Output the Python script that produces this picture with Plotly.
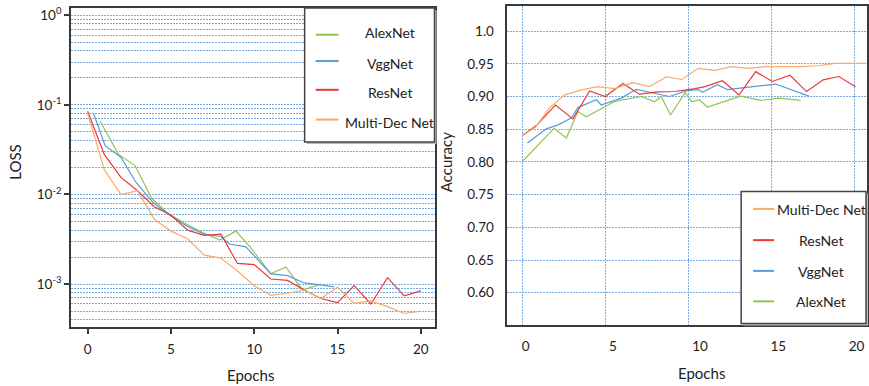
import plotly.graph_objects as go

# ---------------- data ----------------
series_names = ["AlexNet", "VggNet", "ResNet", "Multi-Dec Net"]
series_colors = {"AlexNet": "#92c353", "VggNet": "#5b9bd5", "ResNet": "#e8393b", "Multi-Dec Net": "#f9a968"}

# LOSS (left chart)
loss_alex_x = [0.75, 1.85, 2.85, 3.85, 4.85, 6, 7, 7.95, 8.9, 9.75, 11, 11.9, 12.9, 14]
loss_alex_y = [0.066, 0.028, 0.021, 0.009, 0.0061, 0.0046, 0.0037, 0.0031, 0.0039, 0.0026,
               0.0013, 0.00155, 0.00086, 0.001]
loss_vgg_x = [0.35, 1.05, 2, 2.9, 3.9, 4.9, 6, 7, 8, 8.5, 9.5, 11, 12, 13, 14, 14.8]
loss_vgg_y = [0.081, 0.035, 0.026, 0.0137, 0.0082, 0.0059, 0.0044, 0.0036, 0.0034, 0.0028,
              0.0026, 0.0013, 0.00124, 0.00103, 0.00098, 0.00093]
loss_res_x = list(range(21))
loss_res_y = [0.085, 0.028, 0.0155, 0.011, 0.0073, 0.0059, 0.0040, 0.0035, 0.0036, 0.0017,
              0.00165, 0.00114, 0.0011, 0.00086, 0.00069, 0.00062, 0.00096, 0.0006, 0.00118,
              0.00074, 0.00084]
loss_mdn_x = list(range(21))
loss_mdn_y = [0.081, 0.019, 0.010, 0.011, 0.0053, 0.0039, 0.0032, 0.0021, 0.00195, 0.0014,
              0.00096, 0.00075, 0.00079, 0.00086, 0.00069, 0.00092, 0.00061, 0.00065, 0.00056,
              0.00047, 0.0005]

# Accuracy (right chart)
acc_alex_x = [0, 1.92, 2.66, 3.36, 3.86, 5.56, 7.16, 7.96, 8.36, 8.92, 9.8, 10.2, 10.64, 11.14,
              13.14, 14.34, 15.44, 16.74]
acc_alex_y = [0.80, 0.8515, 0.8364, 0.877, 0.869, 0.8924, 0.90, 0.892, 0.90, 0.8717, 0.906,
              0.892, 0.895, 0.884, 0.9005, 0.894, 0.8975, 0.894]
acc_vgg_x = [0.32, 1.46, 2.16, 2.96, 3.36, 4.46, 4.76, 5.96, 6.86, 7.76, 8.86, 9.9, 10.6, 10.84,
             11.74, 12.34, 15.24, 17.24]
acc_vgg_y = [0.829, 0.8505, 0.8566, 0.867, 0.883, 0.895, 0.887, 0.8975, 0.911, 0.906, 0.90,
             0.909, 0.9105, 0.9065, 0.918, 0.9105, 0.919, 0.9005]
acc_res_x = [0, 0.86, 2, 3.06, 4.06, 5, 6.06, 7.06, 8.16, 9.16, 10.4, 11, 12.04, 13.04, 14.04,
             15.04, 16.1, 17.1, 18.1, 19.04, 20.04]
acc_res_y = [0.840, 0.8556, 0.887, 0.8657, 0.9086, 0.900, 0.9197, 0.9035, 0.907, 0.9076, 0.912,
             0.915, 0.924, 0.9025, 0.938, 0.923, 0.9325, 0.9075, 0.9255, 0.9305, 0.915]
acc_mdn_x = [0, 0.8, 1.66, 2.56, 3.56, 4.56, 5.56, 6.66, 7.66, 8.66, 9.6, 10.6, 11.6, 12.6, 13.6,
             14.6, 15.7, 16.8, 17.8, 18.8, 19.8, 20.7]
acc_mdn_y = [0.84, 0.853, 0.883, 0.9025, 0.91, 0.915, 0.912, 0.921, 0.915, 0.93, 0.926, 0.943,
             0.94, 0.9455, 0.943, 0.9455, 0.9455, 0.9455, 0.947, 0.9505, 0.9505, 0.9505]

epoch_tick_labels = ["0", "5", "10", "15", "20"]
epoch_tick_vals = [0, 5, 10, 15, 20]
loss_tick_vals = [1, 0.1, 0.01, 0.001]
loss_tick_labels = ["10<sup>0</sup>", "10<sup>-1</sup>", "10<sup>-2</sup>", "10<sup>-3</sup>"]
acc_tick_vals = [1.0, 0.95, 0.90, 0.85, 0.80, 0.75, 0.70, 0.65, 0.60]
acc_tick_labels = ["1.0", "0.95", "0.90", "0.85", "0.80", "0.75", "0.70", "0.65", "0.60"]

loss_data = {"AlexNet": (loss_alex_x, loss_alex_y), "VggNet": (loss_vgg_x, loss_vgg_y),
             "ResNet": (loss_res_x, loss_res_y), "Multi-Dec Net": (loss_mdn_x, loss_mdn_y)}
acc_data = {"AlexNet": (acc_alex_x, acc_alex_y), "VggNet": (acc_vgg_x, acc_vgg_y),
            "ResNet": (acc_res_x, acc_res_y), "Multi-Dec Net": (acc_mdn_x, acc_mdn_y)}

# ---------------- figure ----------------
W, H = 869, 386
FONT = "Lato, 'Open Sans', sans-serif"
GRID = "#78abe0"
GDASH = "2px,1px"
AX = "#3a3a3a"

fig = go.Figure()
for name in series_names:
    x, y = loss_data[name]
    fig.add_trace(go.Scatter(x=x, y=y, mode="lines", name=name,
                             line=dict(color=series_colors[name], width=1.2),
                             xaxis="x", yaxis="y"))
for name in series_names:
    x, y = acc_data[name]
    fig.add_trace(go.Scatter(x=x, y=y, mode="lines", name=name,
                             line=dict(color=series_colors[name], width=1.2),
                             xaxis="x2", yaxis="y2"))

minor_loss = [m * 10.0 ** e for e in range(-4, 0) for m in range(2, 10)]

def px(x):
    return x / W

def py(y):
    return 1 - y / H

fig.update_layout(
    width=W, height=H, margin=dict(l=0, r=0, t=0, b=0),
    paper_bgcolor="white", plot_bgcolor="white", showlegend=False,
    font=dict(family=FONT, size=13, color="#222"),
    xaxis=dict(domain=[px(71), px(436)], range=[-1.0, 20.88], anchor="y",
               tickvals=epoch_tick_vals, ticktext=epoch_tick_labels,
               showgrid=False, zeroline=False, showline=True, linecolor=AX, linewidth=1.6,
               mirror=True, ticks="outside", ticklen=5, tickwidth=1.5, tickcolor=AX,
               ticklabelstandoff=4, tickfont=dict(size=13.5)),
    yaxis=dict(domain=[py(327), py(5)], type="log", range=[-3.484, 0.081], anchor="x",
               tickvals=loss_tick_vals, ticktext=loss_tick_labels,
               showgrid=True, gridcolor=GRID, griddash=GDASH, gridwidth=1,
               minor=dict(tickvals=minor_loss, showgrid=True, gridcolor=GRID,
                          griddash=GDASH, gridwidth=1, ticks=""),
               zeroline=False, showline=True, linecolor=AX, linewidth=1.6, mirror=True,
               ticks="outside", ticklen=5, tickwidth=2, tickcolor=AX,
               tickfont=dict(size=13.5)),
    xaxis2=dict(domain=[px(508), px(868)], range=[-0.88, 20.73], anchor="y2",
                tickvals=[0.22, 5.46, 10.7, 15.4, 20.1], ticktext=epoch_tick_labels,
                showgrid=False,
                minor=dict(tickvals=epoch_tick_vals, showgrid=True, gridcolor=GRID,
                           griddash=GDASH, gridwidth=1, ticks=""),
                zeroline=False, showline=True, linecolor=AX, linewidth=1.6, mirror=True,
                ticks="", ticklabelstandoff=8, tickfont=dict(size=13.5)),
    yaxis2=dict(domain=[py(324.5), py(3.5)], range=[0.5507, 1.0376], anchor="x2",
                tickvals=acc_tick_vals, ticktext=acc_tick_labels,
                showgrid=True, gridcolor=GRID, griddash=GDASH, gridwidth=1,
                zeroline=False, showline=True, linecolor=AX, linewidth=1.6, mirror=True,
                ticks="", ticklabelstandoff=9, tickfont=dict(size=13.5)),
)

# axis titles
def title(text, x, y, angle=0):
    fig.add_annotation(text=text, x=px(x), y=py(y), xref="paper", yref="paper",
                       showarrow=False, textangle=angle, xanchor="center", yanchor="middle",
                       font=dict(size=15, color="#222"))

title("LOSS", 15, 160, -90)
title("Epochs", 251, 375)
title("Accuracy", 446, 160, -90)
title("Epochs", 702, 373)

# custom legends (boxes drawn over the plot)
def add_legend(box, order, line_x, line_rows, text_cx, text_rows):
    x0, y0, x1, y1 = box
    fig.add_shape(type="rect", xref="paper", yref="paper", layer="above",
                  x0=px(x0 + 2), x1=px(x1 + 2), y0=py(y1 + 2), y1=py(y0 + 2),
                  fillcolor="#bbbbbb", line=dict(width=0))
    fig.add_shape(type="rect", xref="paper", yref="paper", layer="above",
                  x0=px(x0), x1=px(x1), y0=py(y1), y1=py(y0),
                  fillcolor="white", line=dict(color="#444444", width=1.5))
    for name, ly, ty in zip(order, line_rows, text_rows):
        fig.add_shape(type="line", xref="paper", yref="paper", layer="above",
                      x0=px(line_x[0]), x1=px(line_x[1]), y0=py(ly), y1=py(ly),
                      line=dict(color=series_colors[name], width=2))
        fig.add_annotation(text=name, x=px(text_cx), y=py(ty), xref="paper", yref="paper",
                           showarrow=False, xanchor="center", yanchor="middle",
                           font=dict(size=14, color="#222"))

add_legend((305, 5, 435, 140), series_names, (316, 339), [32, 58.5, 87.5, 117.5], 390,
           [29.5, 61, 90, 120.5])
add_legend((742, 190, 867, 323), list(reversed(series_names)), (754, 775),
           [207.5, 239, 270, 300.7], 822, [208.5, 239.5, 270.7, 301])

fig.write_html("out.html")
